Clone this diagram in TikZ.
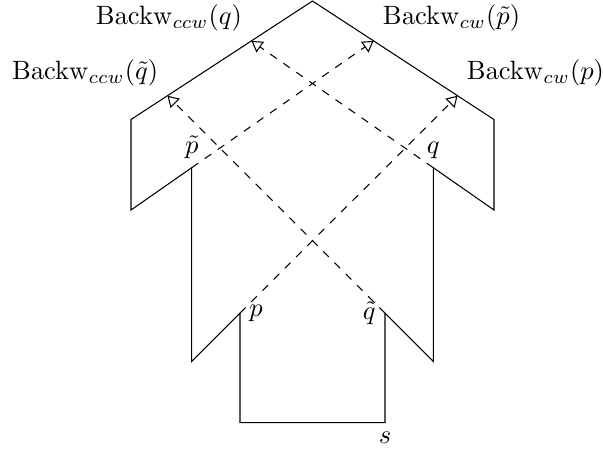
\documentclass[tikz,border=0pt]{standalone}
\usetikzlibrary{arrows.meta}
\begin{document}
\begin{tikzpicture}[x=0.3774pt,y=-0.3774pt,
  outline/.style={line width=0.4pt},
  back/.style={dashed,-{Triangle[open,length=4.1pt,width=4.9pt]}},
  lbl/.style={inner sep=3.33pt}]
\useasboundingbox (0,0) rectangle (603,452);
\coordinate (A) at (312.5,1);
\coordinate (B) at (131,119.5);
\coordinate (C) at (131,210);
\coordinate (D) at (191.7,167.7);
\coordinate (E) at (191.7,361.5);
\coordinate (F) at (240,313.2);
\coordinate (G) at (240,422.7);
\coordinate (H) at (385,422.7);
\coordinate (I) at (385,313.2);
\coordinate (J) at (433.3,361.5);
\coordinate (K) at (433.3,167.7);
\coordinate (L) at (494,210);
\coordinate (M) at (494,119.5);
\draw[outline] (A) -- (B) -- (C) -- (D) -- (E) -- (F) -- (G) -- (H) -- (I) -- (J) -- (K) -- (L) -- (M) -- cycle;
\coordinate (t1) at (intersection of E--F and A--M);
\coordinate (t2) at (intersection of J--I and A--B);
\coordinate (t3) at (intersection of C--D and A--M);
\coordinate (t4) at (intersection of L--K and A--B);
\draw[back] (F) -- (t1) node[lbl,above right] (l1) {$\mathrm{Backw}_{cw}(p)$};
\draw[back] (I) -- (t2) node[lbl,above left] (l2) {$\mathrm{Backw}_{ccw}(\tilde q)$};
\draw[back] (D) -- (t3) node[lbl,above right] (l3) {$\mathrm{Backw}_{cw}(\tilde p)$};
\draw[back] (K) -- (t4) node[lbl,above left] (l4) {$\mathrm{Backw}_{ccw}(q)$};
\node[lbl,above] (np) at (D) {$\tilde p$};
\node[lbl,above] (nq) at (K) {$q$};
\node[lbl,right] (nP) at (F) {$p$};
\node[lbl,left] (nQ) at (I) {$\tilde q$};
\node[lbl,below] (ns) at (H) {$s$};
\end{tikzpicture}
\end{document}
